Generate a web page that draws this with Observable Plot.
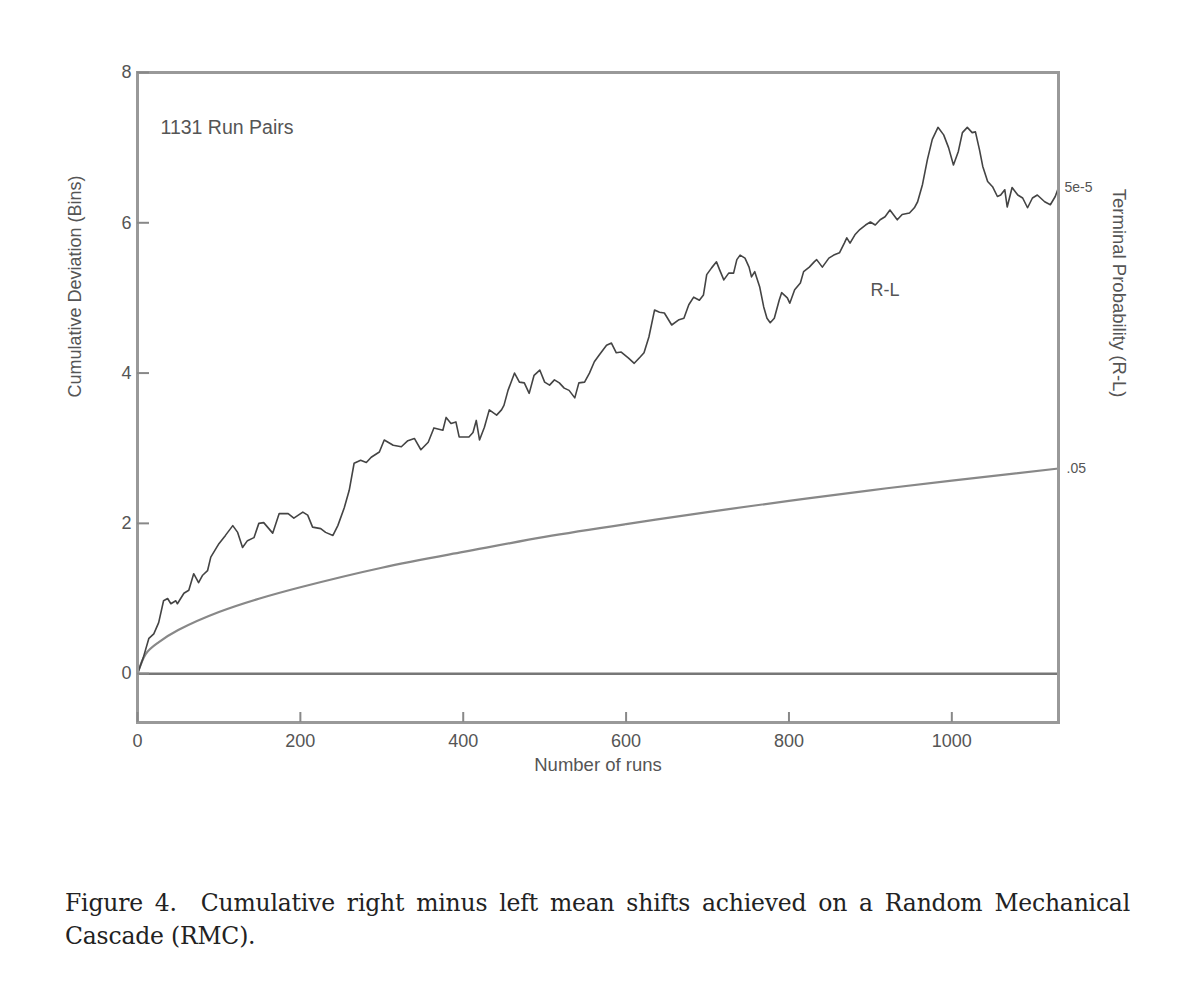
<!DOCTYPE html>
<html>
<head>
<meta charset="utf-8">
<script src="https://cdn.jsdelivr.net/npm/d3@7"></script>
<script src="https://cdn.jsdelivr.net/npm/@observablehq/plot@0.6"></script>
<style>
  body { margin: 0; background: #fff; }
  #chart { position: absolute; left: 0; top: 0; }
  #caption { position: absolute; left: 65px; top: 887px; width: 1065px;
    font-family: "DejaVu Serif", "Liberation Serif", serif; font-size: 23.5px; color: #222; line-height: 33px; letter-spacing: -0.2px; }
  #caption .l1 { text-align: justify; text-align-last: justify; white-space: nowrap; }
</style>
</head>
<body>
<div id="chart"></div>
<div id="caption"><div class="l1">Figure 4.&nbsp; Cumulative right minus left mean shifts achieved on a Random Mechanical</div><div>Cascade (RMC).</div></div>
<script>
// Cumulative R-L deviation (bins) vs number of runs
const runs = [0,7,14,20,26,32,37,41,47,49,57,63,69,75,80,86,90,100,108,117,123,129,135,143,149,155,166,174,185,192,203,209,215,225,231,240,246,254,260,266,274,281,287,297,303,314,324,332,340,348,357,
  364,375,379,385,391,395,407,412,416,420,426,432,441,447,450,455,463,469,475,481,487,494,500,506,512,518,524,530,537,542,549,555,561,567,576,582,588,594,603,610,617,622,628,635,641,647,656,665,671,677,683,690,
  695,699,705,711,715,720,726,732,736,740,746,751,754,758,764,769,773,777,782,788,791,798,801,807,814,818,825,831,834,841,849,855,862,868,871,875,881,887,894,900,906,912,918,924,933,939,948,954,958,
  964,970,976,983,990,996,1002,1008,1013,1019,1025,1029,1034,1038,1044,1050,1056,1060,1065,1068,1074,1081,1087,1093,1099,1105,1114,1121,1127,1131];
const rl = [0,0.21,0.47,0.53,0.68,0.97,1.0,0.93,0.97,0.93,1.07,1.11,1.33,1.21,1.31,1.37,1.55,1.73,1.84,1.97,1.88,1.68,1.77,1.81,2.0,2.01,1.87,2.13,2.13,2.07,2.15,2.11,1.95,1.93,1.88,1.84,1.97,2.21,2.44,2.8,2.84,2.81,2.88,2.95,3.11,3.04,3.02,3.1,3.13,2.98,3.08,
  3.27,3.24,3.41,3.33,3.35,3.15,3.15,3.21,3.37,3.11,3.28,3.51,3.44,3.51,3.57,3.77,4.0,3.88,3.87,3.73,3.97,4.04,3.88,3.84,3.91,3.87,3.8,3.77,3.67,3.87,3.88,4.0,4.15,4.24,4.37,4.4,4.27,4.28,4.2,4.13,4.21,4.27,4.48,4.84,4.81,4.8,4.64,4.71,4.73,4.91,5.01,4.97,
  5.04,5.31,5.4,5.48,5.37,5.24,5.33,5.33,5.51,5.57,5.53,5.41,5.28,5.35,5.15,4.88,4.73,4.67,4.73,4.97,5.07,5.0,4.93,5.11,5.2,5.35,5.41,5.48,5.51,5.41,5.53,5.57,5.6,5.73,5.8,5.73,5.84,5.91,5.97,6.01,5.97,6.04,6.08,6.17,6.04,6.11,6.13,6.2,6.28,
  6.51,6.84,7.11,7.27,7.17,7.0,6.77,6.95,7.2,7.27,7.2,7.21,6.97,6.75,6.55,6.48,6.35,6.37,6.44,6.21,6.47,6.37,6.33,6.2,6.33,6.37,6.28,6.24,6.35,6.47];

// .05 terminal-probability envelope
const envRuns = [0,10,25,50,100,150,200,300,400,500,600,700,800,900,1000,1131];
const envDev = [0,0.26,0.41,0.58,0.82,1.0,1.15,1.41,1.62,1.82,1.99,2.15,2.30,2.44,2.57,2.73];

const xTicks = [0,200,400,600,800,1000];
const yTicks = [0,2,4,6,8];

const rlData = runs.map((n, i) => ({n, v: rl[i]}));
const envData = envRuns.map((n, i) => ({n, v: envDev[i]}));

const font = "Liberation Sans, Arial, sans-serif";
const chart = Plot.plot({
  width: 1200,
  height: 800,
  marginLeft: 137,
  marginRight: 142,
  marginTop: 72,
  marginBottom: 78,
  style: {fontFamily: font, fontSize: "18px", color: "#555", background: "#fff"},
  x: {domain: [0, 1131]},
  y: {domain: [-0.65, 8]},
  marks: [
    Plot.ruleY([0], {stroke: "#777", strokeWidth: 2.5}),
    Plot.line(envData, {x: "n", y: "v", curve: "natural", stroke: "#888", strokeWidth: 2.2}),
    Plot.line(rlData, {x: "n", y: "v", stroke: "#444", strokeWidth: 1.6}),
    Plot.frame({stroke: "#999", strokeWidth: 3}),
    Plot.axisX({ticks: xTicks, tickFormat: d => String(d), tickSize: -10, tickPadding: 22, stroke: "#888", strokeWidth: 2, fill: "#555", label: null}),
    Plot.axisY({ticks: yTicks, tickFormat: d => String(d), tickSize: -12, tickPadding: 18, stroke: "#888", strokeWidth: 2, fill: "#555", label: null}),
    Plot.text(["Number of runs"], {frameAnchor: "bottom", dy: 48, fill: "#555", fontSize: 18.5}),
    Plot.text(["Cumulative Deviation (Bins)"], {frameAnchor: "left", dx: -62, rotate: -90, fill: "#555", fontSize: 18}),
    Plot.text(["Terminal Probability (R-L)"], {frameAnchor: "right", dx: 60, rotate: 90, fill: "#555", fontSize: 18.5}),
    Plot.text(["1131 Run Pairs"], {frameAnchor: "top-left", dx: 23, dy: 48, textAnchor: "start", fill: "#555", fontSize: 19.5}),
    Plot.text(["R-L"], {x: 900, y: 5.1, textAnchor: "start", fill: "#555", fontSize: 18}),
    Plot.text([envData[envData.length - 1]], {x: "n", y: "v", text: () => ".05", textAnchor: "start", dx: 8, fill: "#555", fontSize: 14}),
    Plot.text([rlData[rlData.length - 1]], {x: "n", y: "v", text: () => "5e-5", textAnchor: "start", dx: 6, fill: "#555", fontSize: 14})
  ]
});
document.getElementById("chart").appendChild(chart);
</script>
</body>
</html>
